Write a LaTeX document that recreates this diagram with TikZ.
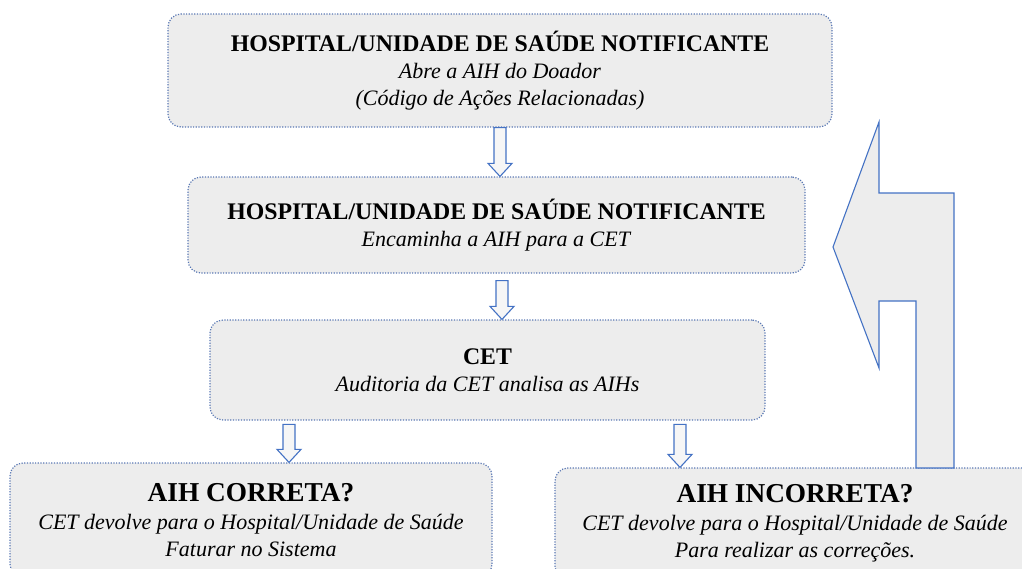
\documentclass[tikz,border=0pt]{standalone}
\usepackage{fontspec}
\setmainfont{Liberation Serif}
\usetikzlibrary{calc}
\definecolor{azul}{RGB}{68,114,196}
\definecolor{pontilhado}{RGB}{90,120,180}
\definecolor{cinza}{RGB}{237,237,237}
\newcommand{\seta}[2]{\draw[setinha] let \p1=#1, \p2=#2 in (\x1-6pt,\y1) -- (\x1+6pt,\y1) -- (\x1+6pt,\y2+13pt) -- (\x1+12pt,\y2+13pt) -- (\x1,\y2) -- (\x1-12pt,\y2+13pt) -- (\x1-6pt,\y2+13pt) -- cycle;}
\newcommand{\titulo}[1]{{\fontsize{23.8}{27}\selectfont\textbf{#1}}}
\newcommand{\titulao}[1]{{\fontsize{27.3}{27}\selectfont\textbf{#1}}}

\begin{document}
\begin{tikzpicture}[x=1pt,y=-1pt]
\tikzset{caixa/.style={draw=pontilhado, line width=1.2pt, dash pattern=on 1.2pt off 1.5pt, fill=cinza, rounded corners=13pt, inner sep=0pt, align=center, font=\fontsize{22}{27}\selectfont}}
\tikzset{setinha/.style={draw=azul, line width=1.1pt, fill=cinza!50!white}}
\useasboundingbox (0,0) rectangle (1022,568);
\clip (0,0) rectangle (1022,568);
\node[caixa, minimum width=664pt, minimum height=113pt] (N1) at (500,70.5) {\titulo{HOSPITAL/UNIDADE DE SAÚDE NOTIFICANTE}\\ \textit{Abre a AIH do Doador}\\ \textit{(Código de Ações Relacionadas)}};
\node[caixa, minimum width=617pt, minimum height=96pt] (N2) at (496.5,225) {\titulo{HOSPITAL/UNIDADE DE SAÚDE NOTIFICANTE}\\ \textit{Encaminha a AIH para a CET}};
\node[caixa, minimum width=555pt, minimum height=100pt] (N3) at (487.5,370) {\titulo{CET}\\ \textit{Auditoria da CET analisa as AIHs}};
\node[caixa, minimum width=482pt, minimum height=114pt] (N4) at (251,520) {\titulao{AIH CORRETA?}\\[1pt] \textit{CET devolve para o Hospital/Unidade de Saúde}\\ \textit{Faturar no Sistema}};
\node[caixa, minimum width=480pt, minimum height=111pt] (N5) at (795,523.5) {\titulao{AIH INCORRETA?}\\[1pt] \textit{CET devolve para o Hospital/Unidade de Saúde}\\ \textit{Para realizar as correções.}};
\seta{(N1.south)}{(N2.north)}
\seta{($(N2.south)+(5.5,7)$)}{(N3.north)}
\seta{($(N4.north)+(38,-38)$)}{(N4.north)}
\seta{($(N5.north)+(-115,-43)$)}{(N5.north)}
\draw[setinha, fill=cinza] (833,247) -- (879,122) -- (879,193) -- (954,193) -- (954,468) -- (916,468) -- (916,301) -- (879,301) -- (879,368) -- cycle;
\end{tikzpicture}
\end{document}
